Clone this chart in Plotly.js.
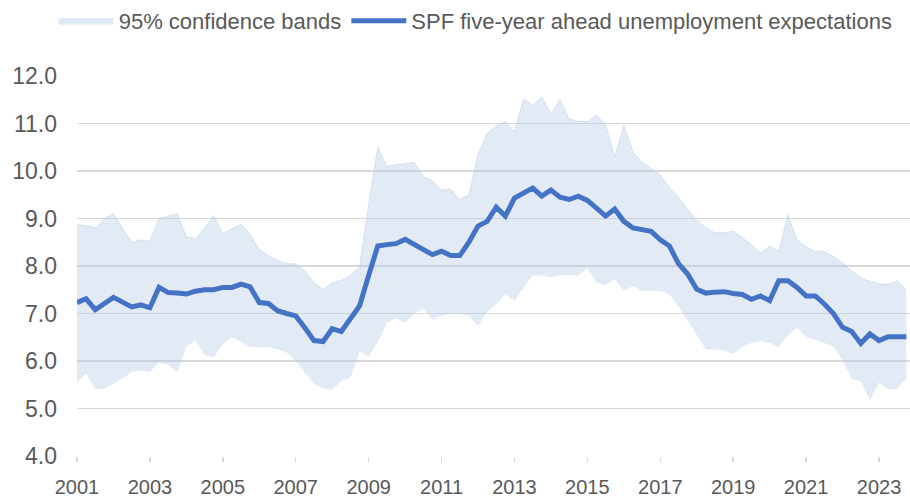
<!DOCTYPE html>
<html>
<head>
<meta charset="utf-8">
<script src="https://cdn.plot.ly/plotly-3.0.1.min.js"></script>
<style>
html,body{margin:0;padding:0;background:#fff;}
#chart{width:910px;height:497px;}
</style>
</head>
<body>
<div id="chart"></div>
<script>
// Quarterly data, 2001Q1 - 2023Q4
const startYear = 2001;
const tickYears = [2001, 2003, 2005, 2007, 2009, 2011, 2013, 2015, 2017, 2019, 2021, 2023];

const spfExpectation = [
  7.23, 7.31, 7.08, 7.20, 7.34, 7.24, 7.14, 7.18, 7.12, 7.55, 7.44, 7.43,
  7.41, 7.47, 7.50, 7.50, 7.55, 7.55, 7.62, 7.56, 7.23, 7.21, 7.06, 7.00,
  6.95, 6.70, 6.43, 6.41, 6.68, 6.62, 6.90, 7.16, 7.80, 8.42, 8.45, 8.47,
  8.56, 8.46, 8.35, 8.24, 8.31, 8.22, 8.22, 8.50, 8.84, 8.94, 9.24, 9.05,
  9.43, 9.55, 9.64, 9.47, 9.60, 9.45, 9.40, 9.47, 9.38, 9.22, 9.05, 9.20,
  8.94, 8.80, 8.76, 8.73, 8.55, 8.42, 8.05, 7.83, 7.51, 7.43, 7.45, 7.46,
  7.42, 7.40, 7.30, 7.37, 7.27, 7.69, 7.69, 7.55, 7.37, 7.37, 7.20, 7.00,
  6.71, 6.62, 6.37, 6.57, 6.43, 6.51, 6.51, 6.51
];

const bandUpper = [
  8.87, 8.85, 8.80, 9.00, 9.10, 8.80, 8.50, 8.55, 8.52, 9.00, 9.05, 9.10,
  8.62, 8.57, 8.80, 9.06, 8.68, 8.78, 8.88, 8.66, 8.35, 8.22, 8.12, 8.05,
  8.04, 7.90, 7.65, 7.51, 7.65, 7.70, 7.80, 7.98, 9.30, 10.50, 10.10, 10.13,
  10.16, 10.18, 9.88, 9.80, 9.60, 9.62, 9.40, 9.50, 10.35, 10.79, 10.95, 11.04,
  10.83, 11.52, 11.38, 11.56, 11.21, 11.50, 11.10, 11.05, 11.04, 11.18, 10.97, 10.30,
  10.97, 10.40, 10.18, 10.05, 9.92, 9.65, 9.45, 9.20, 8.97, 8.80, 8.70, 8.70,
  8.73, 8.60, 8.45, 8.26, 8.42, 8.31, 9.08, 8.55, 8.40, 8.31, 8.30, 8.20,
  8.07, 7.90, 7.75, 7.68, 7.62, 7.62, 7.69, 7.50
];

const bandLower = [
  5.56, 5.73, 5.40, 5.42, 5.52, 5.63, 5.77, 5.80, 5.77, 5.97, 5.92, 5.77,
  6.30, 6.43, 6.12, 6.08, 6.35, 6.50, 6.40, 6.30, 6.29, 6.29, 6.25, 6.18,
  6.00, 5.75, 5.52, 5.42, 5.40, 5.58, 5.65, 6.20, 6.10, 6.40, 6.80, 6.90,
  6.80, 7.00, 7.10, 6.87, 6.95, 7.00, 6.99, 6.95, 6.74, 7.05, 7.20, 7.40,
  7.27, 7.55, 7.80, 7.80, 7.77, 7.80, 7.80, 7.80, 7.96, 7.65, 7.60, 7.72,
  7.48, 7.58, 7.48, 7.48, 7.48, 7.40, 7.15, 6.85, 6.55, 6.25, 6.24, 6.22,
  6.15, 6.30, 6.38, 6.42, 6.38, 6.29, 6.55, 6.70, 6.50, 6.45, 6.38, 6.30,
  6.02, 5.62, 5.57, 5.17, 5.55, 5.40, 5.42, 5.65
];

// quarter positions (decimal years)
const quarters = spfExpectation.map((_, i) => startYear + i / 4);

const textColor = '#595959';
const gridColor = 'rgb(217,217,217)';

const traces = [
  {
    x: quarters, y: bandLower, type: 'scatter', mode: 'lines',
    line: {color: 'rgba(0,0,0,0)', width: 0},
    showlegend: false, hoverinfo: 'skip'
  },
  {
    x: quarters, y: bandUpper, type: 'scatter', mode: 'lines',
    name: '95% confidence bands',
    fill: 'tonexty', fillcolor: 'rgba(180,199,231,0.38)',
    line: {color: 'rgba(180,199,231,0.45)', width: 1}
  },
  {
    x: quarters, y: spfExpectation, type: 'scatter', mode: 'lines',
    name: 'SPF five-year ahead unemployment expectations',
    line: {color: '#4472C4', width: 5, shape: 'linear'}
  }
];

const layout = {
  width: 910, height: 497,
  margin: {l: 77, r: 0, t: 74, b: 41},
  paper_bgcolor: '#ffffff', plot_bgcolor: '#ffffff',
  font: {family: '"Liberation Sans", Arial, sans-serif', color: textColor, size: 20},
  showlegend: true,
  legend: {
    orientation: 'h', x: -0.028, xanchor: 'left', y: 1.2, yanchor: 'top',
    font: {size: 22, color: textColor},
    itemwidth: 55, traceorder: 'normal',
    bgcolor: 'rgba(0,0,0,0)'
  },
  xaxis: {
    range: [startYear, startYear + 91.4 / 4],
    tickvals: tickYears, ticktext: tickYears.map(String),
    showgrid: false, zeroline: false,
    showline: false,
    ticks: 'outside', ticklen: 5, tickwidth: 1.5, tickcolor: gridColor,
    tickfont: {size: 20, color: textColor},
    ticklabelstandoff: 8
  },
  yaxis: {
    range: [4, 12], dtick: 1, tick0: 4, tickformat: '.1f',
    showgrid: true, gridcolor: gridColor, gridwidth: 1.5,
    zeroline: false, showline: false, ticks: '',
    tickfont: {size: 23, color: textColor},
    ticklabelstandoff: 19
  }
};

Plotly.newPlot('chart', traces, layout, {displayModeBar: false, staticPlot: true});
</script>
</body>
</html>
